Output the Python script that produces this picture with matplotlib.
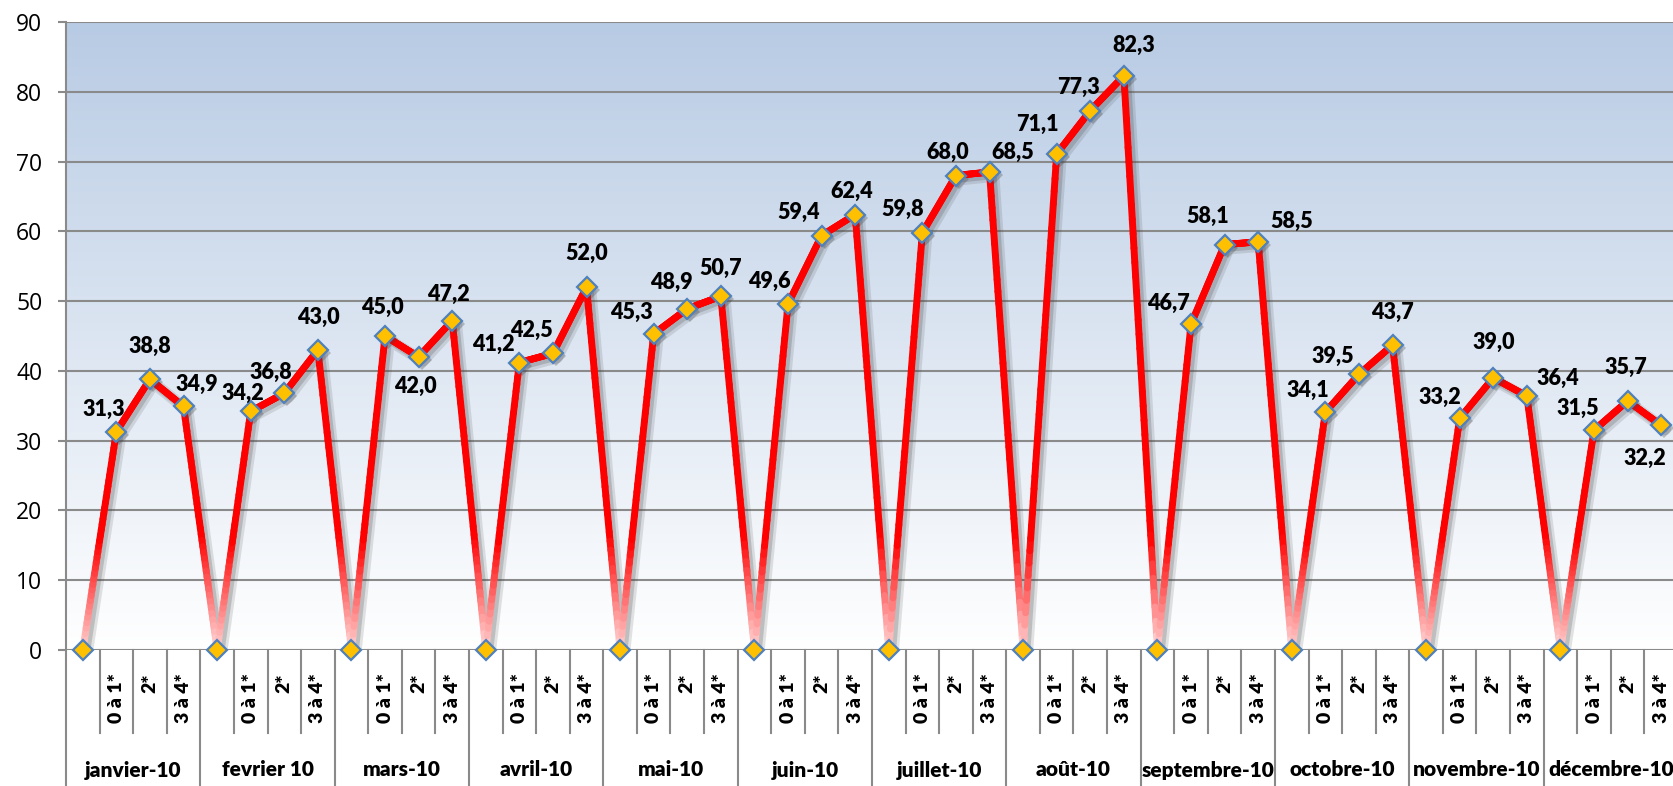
import numpy as np
import matplotlib
matplotlib.use("Agg")
import matplotlib.pyplot as plt
from matplotlib.collections import LineCollection
from matplotlib.colors import to_rgb
from matplotlib import transforms

# Monthly values for the three groups (0 à 1*, 2*, 3 à 4*); each month starts with an empty slot at 0
months = ["janvier-10", "fevrier 10", "mars-10", "avril-10", "mai-10", "juin-10",
          "juillet-10", "août-10", "septembre-10", "octobre-10", "novembre-10", "décembre-10"]
groups = ["", "0 à 1*", "2*", "3 à 4*"]
val_0a1 = [31.3, 34.2, 45.0, 41.2, 45.3, 49.6, 59.8, 71.1, 46.7, 34.1, 33.2, 31.5]
val_2 = [38.8, 36.8, 42.0, 42.5, 48.9, 59.4, 68.0, 77.3, 58.1, 39.5, 39.0, 35.7]
val_3a4 = [34.9, 43.0, 47.2, 52.0, 50.7, 62.4, 68.5, 82.3, 58.5, 43.7, 36.4, 32.2]

# label offsets in pixels (dx, dy up) for each non-zero point, style only
label_offsets = [
    (-13, 22), (0, 33), (13, 22),
    (-8, 18), (-13, 21), (0, 33),
    (-3, 29), (-3, -29), (-4, 26),
    (-26, 18), (-22, 23), (0, 34),
    (-22, 22), (-16, 26), (0, 28),
    (-19, 22), (-23, 23), (-3, 23),
    (-20, 23), (-8, 23), (23, 20),
    (-19, 29), (-12, 23), (10, 30),
    (-23, 21), (-17, 28), (34, 20),
    (-18, 22), (-26, 18), (0, 33),
    (-20, 21), (0, 35), (31, 18),
    (-16, 22), (-2, 33), (-16, -33),
]

# build the flat series: 0, a, b, c per month
values = []
cat_labels = []
for m in range(len(months)):
    values += [0.0, val_0a1[m], val_2[m], val_3a4[m]]
    cat_labels += groups
values = np.array(values)
x = np.arange(len(values))

W, H = 1673, 786
fig = plt.figure(figsize=(W / 100, H / 100), dpi=100)
left, right, top, zero = 66, 1678, 22, 650
ax = fig.add_axes([left / W, (H - zero) / H, (right - left) / W, (zero - top) / H])
ax.set_xlim(-0.5, len(values) - 0.5)
ax.set_ylim(0, 90)

# background gradient: light blue at top to white at bottom
top_col = np.array(to_rgb("#b8cbe4"))
grad = np.linspace(1, 0, 256)[:, None]
img = np.ones((256, 1, 3)) * (1 - grad[..., None]) + top_col * grad[..., None]
ax.imshow(img, extent=[0, 1, 0, 1], transform=ax.transAxes, aspect="auto", zorder=0)

# grid and axis styling
grid_col = "#8a8a8a"
ax.set_yticks(np.arange(0, 91, 10))
ax.yaxis.grid(True, color=grid_col, lw=1.5, zorder=1)
ax.set_axisbelow(True)
for s in ["top", "right", "bottom"]:
    ax.spines[s].set_visible(False)
ax.spines["left"].set_color(grid_col)
ax.spines["left"].set_linewidth(1.5)
ax.tick_params(axis="y", length=6, width=1.5, color=grid_col, pad=11, labelsize=16.5)
for t in ax.get_yticklabels():
    t.set_fontfamily("Open Sans")

ax.set_xticks(x)
ax.set_xticklabels(cat_labels, rotation=90, fontsize=14, fontweight="heavy", family="Lato")
ax.tick_params(axis="x", length=0, pad=17)

# category separators below the axis
xt = ax.get_xaxis_transform()
y_sub = -(733 - zero) / (zero - top)
y_bot = -(H - zero) / (zero - top)
for i in range(len(values) + 1):
    xs = i - 0.5
    yb = y_bot if i % 4 == 0 else y_sub
    ax.plot([xs, xs], [0, yb], color=grid_col, lw=1.5, transform=xt, clip_on=False, zorder=1)
for m, name in enumerate(months):
    ax.text(4 * m + 1.5, -(770 - zero) / (zero - top), name, transform=xt, ha="center", va="center",
            fontsize=15, fontweight="heavy", family="Lato")

# shadow of the line (two soft layers)
for off, a, lw in [(4, 0.15, 8.5), (3, 0.22, 6)]:
    shadow = transforms.offset_copy(ax.transData, fig=fig, x=off, y=-off, units="dots")
    ax.plot(x, values, color="#444444", alpha=a, lw=lw, transform=shadow, zorder=2,
            solid_joinstyle="round", solid_capstyle="round")

# red line fading to pale pink near zero
n = 40
segs, cols = [], []
red = np.array(to_rgb("#ff0000"))
white = np.array(to_rgb("#ffffff"))
for i in range(len(values) - 1):
    xs = np.linspace(x[i], x[i + 1], n + 1)
    ys = np.linspace(values[i], values[i + 1], n + 1)
    for k in range(n):
        segs.append([(xs[k], ys[k]), (xs[k + 1], ys[k + 1])])
        ym = 0.5 * (ys[k] + ys[k + 1])
        t = np.clip((16 - ym) / 16, 0, 1) * 0.85
        cols.append(red * (1 - t) + white * t)
lc = LineCollection(segs, colors=cols, linewidths=5, capstyle="round", zorder=3)
ax.add_collection(lc)

# markers with shadow
shadow = transforms.offset_copy(ax.transData, fig=fig, x=3, y=-3, units="dots")
ax.plot(x, values, "D", ms=10.5, color="#444444", alpha=0.3, mew=0, transform=shadow, zorder=3.5)
ax.plot(x, values, "D", ms=10, mfc="#ffc000", mec="#4f81bd", mew=1.6, zorder=4, clip_on=False)

# data labels
k = 0
for i, v in enumerate(values):
    if v == 0:
        continue
    dx, dy = label_offsets[k]
    k += 1
    ax.annotate(f"{v:.1f}".replace(".", ","), (x[i], v), xytext=(dx, dy), textcoords="offset pixels",
                ha="center", va="center", fontsize=15.5, fontweight="heavy", family="Lato", zorder=5)

fig.savefig("out.png", dpi=100)
